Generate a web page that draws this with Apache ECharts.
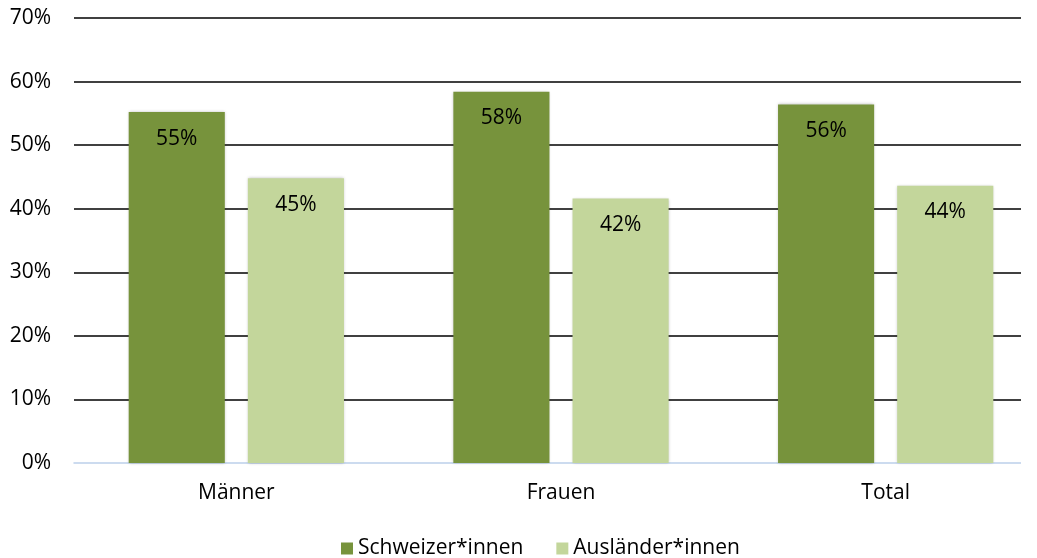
<!DOCTYPE html>
<html lang="de">
<head>
    <meta charset="UTF-8">
    <title>Schweizer*innen / Ausländer*innen</title>
    <script src="https://cdn.jsdelivr.net/npm/echarts@6/dist/echarts.min.js"></script>
    <style>
        html, body { margin: 0; padding: 0; background: #fff; overflow: hidden; }
        /* wider than the window: the original chart is cut off on the right */
        #main { width: 1052px; height: 558px; }
    </style>
</head>
<body>
<div id="main"></div>
<script type="text/javascript">
    const categories = ['Männer', 'Frauen', 'Total']
    const schweizer = [55.2, 58.4, 56.4]
    const auslaender = [44.8, 41.6, 43.6]
    const yTicks = [0, 10, 20, 30, 40, 50, 60, 70]

    const font = "'Open Sans', 'Noto Sans', sans-serif"
    let chart = echarts.init(document.getElementById('main'))

    function labelOf(p) {
        return Math.round(p.value) + '%'
    }

    chart.setOption({
        animation: false,
        backgroundColor: '#fff',
        textStyle: { fontFamily: font },
        grid: { left: 74, width: 974, top: 18, bottom: 95, containLabel: false },
        legend: {
            top: 533,
            left: 336,
            itemWidth: 12,
            itemHeight: 12,
            itemGap: 33,
            icon: 'rect',
            textStyle: { fontSize: 21, color: '#000', fontFamily: font },
            data: ['Schweizer*innen', 'Ausländer*innen']
        },
        graphic: [{
            type: 'rect',
            z: 100,
            shape: { x: 1021, y: 0, width: 40, height: 480 },
            style: { fill: '#fff' }
        }],
        xAxis: {
            type: 'category',
            data: categories,
            axisLine: { lineStyle: { color: '#bcd0ea', width: 1.5 } },
            axisTick: { show: false },
            axisLabel: { color: '#000', fontSize: 21, margin: 20 }
        },
        yAxis: {
            type: 'value',
            min: yTicks[0],
            max: yTicks[yTicks.length - 1],
            interval: 10,
            axisLine: { show: false },
            axisTick: { show: false },
            splitLine: { showMinLine: false, lineStyle: { color: '#000', width: 1.5 } },
            axisLabel: { color: '#000', fontSize: 21, margin: 23, formatter: '{value}%' }
        },
        series: [
            {
                name: 'Schweizer*innen',
                type: 'bar',
                data: schweizer,
                barWidth: '29.6%',
                barGap: '24%',
                itemStyle: { color: '#77933c', shadowColor: 'rgba(0,0,0,0.25)', shadowBlur: 3 },
                label: { show: true, position: 'insideTop', distance: 16, color: '#000', fontSize: 21, formatter: labelOf }
            },
            {
                name: 'Ausländer*innen',
                type: 'bar',
                data: auslaender,
                barWidth: '29.6%',
                itemStyle: { color: '#c3d69b', shadowColor: 'rgba(0,0,0,0.25)', shadowBlur: 3 },
                label: { show: true, position: 'insideTop', distance: 16, color: '#000', fontSize: 21, formatter: labelOf }
            }
        ]
    })
</script>
</body>
</html>
